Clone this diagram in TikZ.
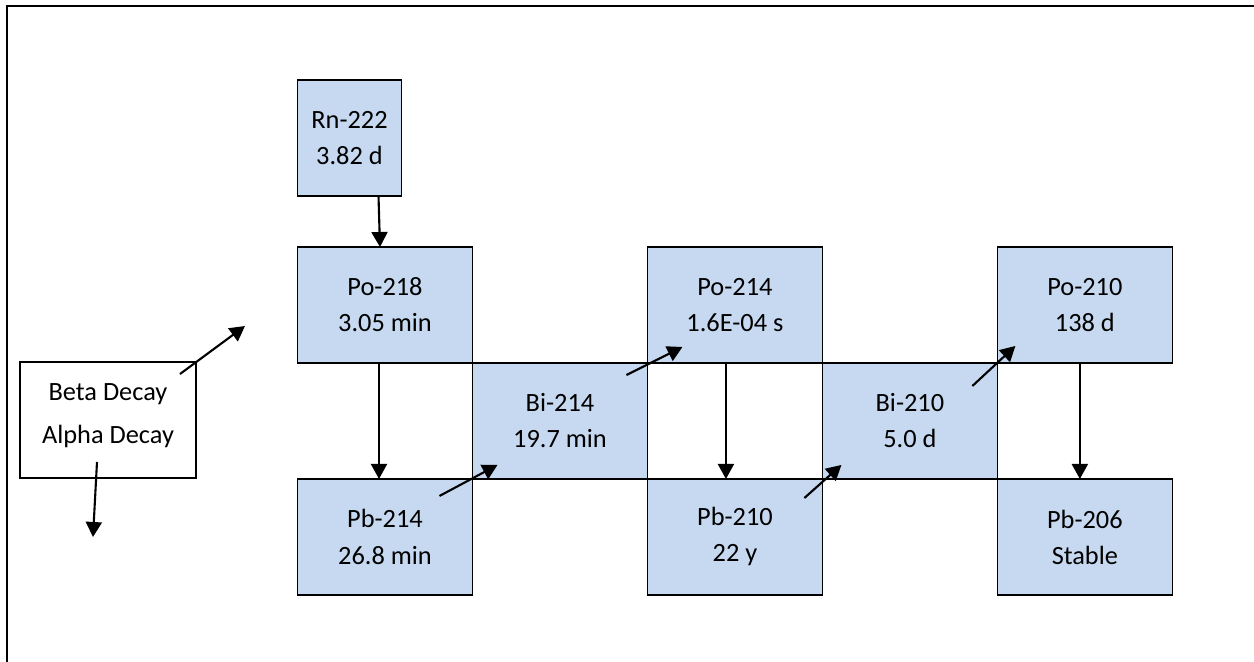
\documentclass[tikz,border=0pt]{standalone}
\usepackage{fontspec}
\setmainfont{Carlito}
\usetikzlibrary{arrows.meta, positioning, calc}
\definecolor{isoblue}{RGB}{198,217,240}

\begin{document}
\begin{tikzpicture}[
    x=0.02cm, y=-0.02cm,
    >={Triangle[length=0.3cm, width=0.32cm]},
    isotope/.style={rectangle, draw, line width=0.85pt, fill=isoblue, outer sep=0pt, inner sep=0pt,
        minimum width=3.5cm, minimum height=2.32cm, align=center, font=\fontsize{15}{20.5}\selectfont},
    legendbox/.style={isotope, fill=white, minimum width=3.52cm, text depth=0.26cm, font=\fontsize{15}{24.4}\selectfont},
    arrow/.style={->, line width=1.2pt},
    frame/.style={line width=1.15pt},
]
\useasboundingbox (0,0) rectangle (1254,662);

% === Outer frame ===
\draw[frame] (7,662) -- (7,6) -- (1254,6);

% === Decay chain ===
\node (po218) [isotope] at (385,305) {Po-218\\3.05 min};
\node (rn222) [isotope, minimum width=2.08cm, anchor=south west] at ($(po218.north west)+(0,-51)$) {Rn-222\\3.82 d};
\node (bi214) [isotope, below right=0pt and 0pt of po218] {Bi-214\\19.7 min};
\node (pb214) [isotope, below left=0pt and 0pt of bi214] {Pb-214\\26.8 min};
\node (po214) [isotope, above right=0pt and 0pt of bi214] {Po-214\\1.6E-04 s};
\node (pb210) [isotope, below right=0pt and 0pt of bi214] {Pb-210\\22 y};
\node (bi210) [isotope, below right=0pt and 0pt of po214] {Bi-210\\5.0 d};
\node (po210) [isotope, above right=0pt and 0pt of bi210] {Po-210\\138 d};
\node (pb206) [isotope, below right=0pt and 0pt of bi210] {Pb-206\\Stable};

% === Legend ===
\node (legend) [legendbox] at (108,420) {Beta Decay\\Alpha Decay};
\coordinate (betastart) at ($(legend.north east)+(-16,12)$);
\coordinate (betatip) at ($(legend.north east)+(49,-36)$);
\coordinate (alphastart) at ($(legend.south)+(-11,-16)$);
\coordinate (alphatip) at ($(legend.south)+(-15,59)$);
\draw[arrow] (betastart) -- (betatip);
\draw[arrow] (alphastart) -- (alphatip);

% === Alpha decays ===
\draw[arrow] ($(rn222.south)+(29,0)$) -- ($(po218.north)+(-5,0)$);
\draw[arrow] ($(po218.south)+(-6,0)$) -- ($(pb214.north)+(-6,0)$);
\draw[arrow] ($(po214.south)+(-9,0)$) -- ($(pb210.north)+(-9,0)$);
\draw[arrow] ($(po210.south)+(-5,0)$) -- ($(pb206.north)+(-5,0)$);

% === Beta decays ===
\draw[arrow] ($(pb214.north east)+(-33,17)$) -- ($(pb214.north east)+(25,-14)$);
\draw[arrow] ($(bi214.north east)+(-21,12)$) -- ($(bi214.north east)+(35,-16)$);
\draw[arrow] ($(pb210.north east)+(-18,19)$) -- ($(pb210.north east)+(19,-14)$);
\draw[arrow] ($(bi210.north east)+(-25,23)$) -- ($(bi210.north east)+(18,-17)$);

\end{tikzpicture}
\end{document}
